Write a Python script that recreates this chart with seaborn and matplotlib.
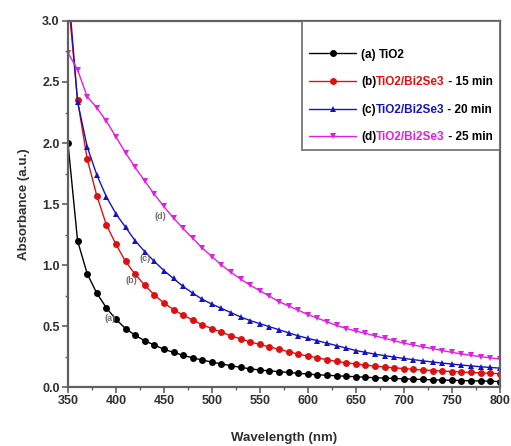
import numpy as np
import pandas as pd
import matplotlib
matplotlib.use("Agg")
import matplotlib.pyplot as plt
from matplotlib.lines import Line2D
from matplotlib.ticker import MultipleLocator
import seaborn as sns

wavelength = [350, 360, 370, 380, 390, 400, 410, 420, 430, 440,
              450, 460, 470, 480, 490, 500, 510, 520, 530, 540,
              550, 560, 570, 580, 590, 600, 610, 620, 630, 640,
              650, 660, 670, 680, 690, 700, 710, 720, 730, 740,
              750, 760, 770, 780, 790, 800]

abs_a = [2.0, 1.2, 0.93, 0.77, 0.65, 0.555, 0.48, 0.425, 0.38, 0.345,
         0.31, 0.285, 0.26, 0.24, 0.222, 0.205, 0.19, 0.175, 0.162, 0.15,
         0.14, 0.133, 0.127, 0.12, 0.113, 0.107, 0.101, 0.097, 0.093, 0.089,
         0.085, 0.081, 0.077, 0.074, 0.071, 0.068, 0.065, 0.063, 0.06, 0.058,
         0.056, 0.054, 0.052, 0.05, 0.048, 0.046]

abs_b = [3.2, 2.35, 1.87, 1.57, 1.33, 1.17, 1.03, 0.925, 0.835, 0.755,
         0.69, 0.635, 0.59, 0.55, 0.51, 0.48, 0.45, 0.42, 0.395, 0.37,
         0.35, 0.33, 0.31, 0.29, 0.27, 0.255, 0.24, 0.225, 0.21, 0.2,
         0.19, 0.18, 0.172, 0.165, 0.158, 0.152, 0.146, 0.141, 0.136, 0.132,
         0.128, 0.124, 0.12, 0.117, 0.113, 0.11]

abs_c = [3.3, 2.34, 1.97, 1.74, 1.56, 1.42, 1.31, 1.2, 1.11, 1.03,
         0.955, 0.89, 0.825, 0.77, 0.72, 0.68, 0.645, 0.61, 0.575, 0.545,
         0.52, 0.495, 0.47, 0.445, 0.42, 0.4, 0.38, 0.36, 0.34, 0.32,
         0.3, 0.285, 0.27, 0.258, 0.246, 0.235, 0.225, 0.215, 0.206, 0.197,
         0.189, 0.181, 0.174, 0.167, 0.161, 0.156]

abs_d = [2.74, 2.6, 2.38, 2.29, 2.18, 2.05, 1.92, 1.8, 1.69, 1.58,
         1.48, 1.385, 1.3, 1.22, 1.14, 1.07, 1.0, 0.94, 0.885, 0.835,
         0.79, 0.745, 0.7, 0.665, 0.63, 0.595, 0.565, 0.535, 0.505, 0.48,
         0.46, 0.44, 0.42, 0.4, 0.38, 0.36, 0.345, 0.33, 0.315, 0.3,
         0.285, 0.272, 0.26, 0.25, 0.24, 0.23]

series_names = ["(a) TiO2", "(b)TiO2/Bi2Se3 - 15 min",
                "(c)TiO2/Bi2Se3 - 20 min", "(d)TiO2/Bi2Se3 - 25 min"]
legend_parts = [[("(a) ", "black"), ("TiO2", "black")],
                [("(b)", "black"), ("TiO2/Bi2Se3", "#e01010"), (" - 15 min", "black")],
                [("(c)", "black"), ("TiO2/Bi2Se3", "#1515c0"), (" - 20 min", "black")],
                [("(d)", "black"), ("TiO2/Bi2Se3", "#e020e0"), (" - 25 min", "black")]]
curve_labels = ["(a)", "(b)", "(c)", "(d)"]
curve_label_pos = [(394, 0.56), (416, 0.87), (430, 1.05), (446, 1.40)]

colors = ["#000000", "#e01010", "#1515c0", "#e020e0"]
markers = ["o", "o", "^", "v"]

sns.set_theme(style="ticks")
plt.rcParams["font.family"] = ["Liberation Sans", "DejaVu Sans"]
plt.rcParams["font.weight"] = "bold"

frames = []
for name, vals in zip(series_names, [abs_a, abs_b, abs_c, abs_d]):
    frames.append(pd.DataFrame({"Wavelength": wavelength, "Absorbance": vals, "Sample": name}))
df = pd.concat(frames, ignore_index=True)

fig = plt.figure(figsize=(5.11, 4.46), dpi=100)
ax = fig.add_axes([0.133, 0.132, 0.845, 0.821])

sns.lineplot(data=df, x="Wavelength", y="Absorbance", hue="Sample", style="Sample",
             hue_order=series_names, style_order=series_names,
             palette=dict(zip(series_names, colors)),
             markers=dict(zip(series_names, markers)), dashes=False,
             markersize=5, markeredgewidth=0, linewidth=1.0, legend=False, ax=ax)

ax.set_xlim(350, 800)
ax.set_ylim(0, 3.0)
ax.xaxis.set_major_locator(MultipleLocator(50))
ax.xaxis.set_minor_locator(MultipleLocator(25))
ax.yaxis.set_minor_locator(MultipleLocator(0.25))
ax.set_yticks(np.arange(0, 3.01, 0.5))
ax.set_yticklabels(["0.0", "0.5", "1.0", "1.5", "2.0", "2.5", "3.0"])

for s in ax.spines.values():
    s.set_color("#606060")
    s.set_linewidth(1.6)
    s.set_visible(True)
ax.tick_params(which="major", direction="out", length=4, width=1.2, color="#606060",
               labelsize=9, labelcolor="#303030", pad=2)
ax.tick_params(which="minor", direction="out", length=2.5, width=1.0, color="#606060")

ax.set_xlabel("Wavelength (nm)", fontsize=9.5, fontweight="bold", color="#303030", labelpad=18)
ax.set_ylabel("Absorbance (a.u.)", fontsize=9.5, fontweight="bold", color="#303030", labelpad=9)

for lab, (x, y) in zip(curve_labels, curve_label_pos):
    ax.text(x, y, lab, fontsize=6.5, color="#707070", ha="center", va="center")

handles = [Line2D([], [], color=c, marker=m, markersize=5, markeredgewidth=0, linewidth=1.0)
           for c, m in zip(colors, markers)]
leg = ax.legend(handles, series_names, loc="upper right", bbox_to_anchor=(1.0, 1.0),
                borderaxespad=0.0, fontsize=8.5, frameon=True, fancybox=False,
                handlelength=4.0, labelspacing=1.32, borderpad=0.6, handletextpad=0.4,
                title=" ", title_fontsize=4)
leg.get_frame().set_edgecolor("#606060")
leg.get_frame().set_linewidth(1.4)

fig.canvas.draw()
renderer = fig.canvas.get_renderer()
inv = fig.transFigure.inverted()
for t, parts in zip(leg.get_texts(), legend_parts):
    bb = t.get_window_extent(renderer)
    x0, y0 = bb.x0, bb.y0
    for txt, col in parts:
        fx, fy = inv.transform((x0, y0))
        tt = fig.text(fx, fy, txt, ha="left", va="bottom", fontsize=8.5, color=col,
                      fontweight="bold", zorder=10)
        tb = tt.get_window_extent(renderer)
        x0 = tb.x1
    t.set_visible(False)

fig.savefig("out.png", dpi=100, facecolor="white")
